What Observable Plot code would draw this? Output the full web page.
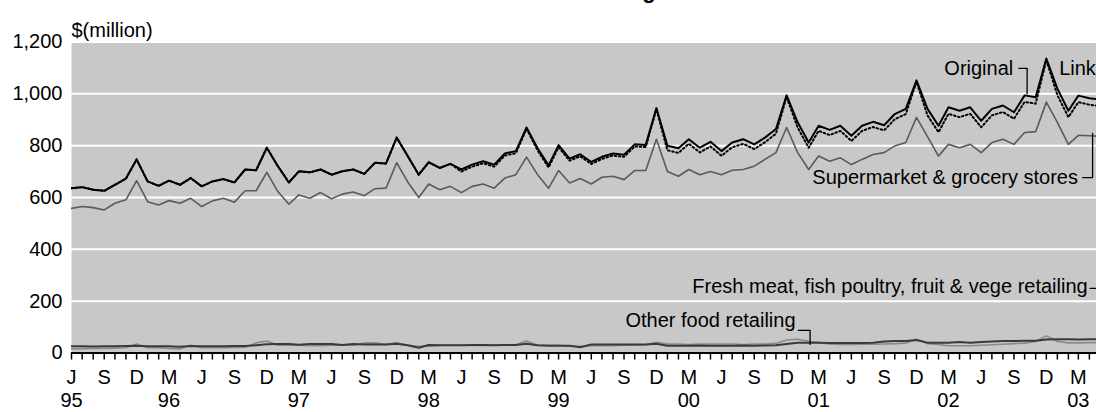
<!DOCTYPE html>
<html><head><meta charset="utf-8">
<script src="https://cdn.jsdelivr.net/npm/d3@7"></script>
<script src="https://cdn.jsdelivr.net/npm/@observablehq/plot@0.6"></script>
<style>
html,body{margin:0;padding:0;background:#fff;overflow:hidden;}
#wrap{position:relative;width:1096px;height:412px;overflow:hidden;}
#title{position:absolute;z-index:2;top:-19.6px;left:583px;transform:translateX(-50%);font:bold 22px "Liberation Sans",Arial,sans-serif;line-height:22px;white-space:nowrap;color:#000;}
</style></head><body>
<div id="wrap"><div id="title">Food retailing</div><div id="chart"></div></div>
<script>
// Months: Jun 1995 .. May 2003
const firstMonth = "1995-06-01";
const lastMonth = "2003-05-01";
const viewEnd = "2003-04-21";

const original = [
 636,640,630,626,649,673,747,662,645,665,649,675,
 643,662,671,658,708,705,792,721,658,701,697,708,
 688,701,708,691,734,731,831,760,688,736,714,730,
 708,727,740,727,770,779,870,790,724,802,750,767,
 737,757,770,765,805,803,945,800,790,825,792,815,
 779,812,825,805,831,864,994,890,812,877,861,877,
 838,877,892,879,922,942,1052,942,877,948,935,948,
 896,942,955,929,994,987,1136,1020,935,993,983,978];

const linked = [
 636,640,630,626,649,673,747,662,645,665,649,675,
 643,662,671,658,708,705,792,721,658,701,697,708,
 688,701,708,691,734,731,831,760,688,736,714,730,
 700,719,732,719,762,771,865,782,716,794,742,759,
 729,749,762,757,797,795,940,782,772,807,774,797,
 761,794,807,787,813,846,988,870,792,857,841,857,
 818,857,872,859,902,922,1046,917,852,923,910,923,
 871,917,930,904,969,962,1130,995,910,968,958,953];

const supermarket = [
 558,565,561,552,578,591,665,584,571,588,578,597,
 565,587,597,582,626,626,697,623,574,610,597,619,
 595,613,621,607,634,636,734,660,600,652,630,643,
 619,643,652,636,675,688,756,688,636,704,656,673,
 652,678,682,669,704,704,825,700,682,708,688,700,
 688,705,708,721,747,773,870,773,708,760,740,753,
 727,747,766,773,799,812,909,835,760,805,792,805,
 773,812,825,805,851,854,968,890,805,840,838,836];

const freshMeat = [
 26,26,25,26,26,27,28,26,26,26,24,27,
 26,26,26,27,27,30,34,35,35,32,35,35,
 35,31,35,33,33,33,36,30,20,31,30,30,
 30,31,31,30,31,31,36,30,28,28,28,22,
 33,33,33,33,33,33,36,28,28,28,29,28,
 28,28,29,28,29,30,35,40,40,40,39,39,
 39,39,40,44,46,46,50,40,40,40,42,40,
 42,44,46,46,47,47,52,53,53,52,53,53];

const otherFood = [
 16,17,18,18,19,20,35,20,20,18,16,30,
 20,20,20,21,22,39,46,30,30,30,28,28,
 30,30,30,38,39,33,40,30,26,26,30,30,
 30,29,29,30,30,32,46,30,30,30,26,26,
 28,28,28,30,30,32,41,35,35,33,35,35,
 35,35,33,35,35,37,50,53,45,40,35,33,
 33,34,34,35,36,38,53,36,33,28,28,28,
 30,32,34,36,38,45,66,45,39,39,40,40];

const yTicks = [0,200,400,600,800,1000,1200];
const monthLetters = ["J","F","M","A","M","J","J","A","S","O","N","D"];
const labelledMonths = [2,5,8,11];

const labels = [
 {text:"Original", date:"2002-08-30", value:1098, anchor:"end"},
 {text:"Linked", date:"2003-01-06", value:1098, anchor:"start"},
 {text:"Supermarket & grocery stores", date:"2003-02-28", value:677, anchor:"end"},
 {text:"Fresh meat, fish poultry, fruit & vege retailing", date:"2000-03-11", value:257, anchor:"start"},
 {text:"Other food retailing", date:"1999-09-05", value:125, anchor:"start"}
];
const connectors = [
 {id:"orig", pts:[["2002-09-15",1098],["2002-10-08",1098],["2002-10-08",1000]]},
 {id:"super", pts:[["2003-03-13",677],["2003-04-10",677],["2003-04-10",847]]},
 {id:"fresh", pts:[["2003-04-03",249],["2003-05-20",249]]},
 {id:"other", pts:[["2001-01-03",87],["2001-02-05",87],["2001-02-05",33]]}
];

const months = d3.utcMonth.range(new Date(firstMonth), d3.utcMonth.offset(new Date(lastMonth), 1));
const toRows = arr => arr.map((v, i) => ({date: months[i], value: v}));

const seriesDefs = [
 {values: otherFood, stroke:"#8a8a8a", strokeWidth:1.6},
 {values: freshMeat, stroke:"#3a3a3a", strokeWidth:2},
 {values: supermarket, stroke:"#5a5a5a", strokeWidth:1.6},
 {values: linked, stroke:"#000", strokeWidth:2, strokeDasharray:"1.6,2.6"},
 {values: original, stroke:"#000", strokeWidth:2}
];

const domainStart = new Date(firstMonth), domainEnd = new Date(viewEnd);
const monthTicks = d3.utcMonth.range(domainStart, domainEnd);
const labelTicks = monthTicks.filter(d => labelledMonths.includes(d.getUTCMonth()));
const yearTicks = labelTicks.filter((d, i) => i === 0 || d.getUTCMonth() === 2);

const connRows = connectors.flatMap(c => c.pts.map(p => ({id: c.id, date: new Date(p[0]), value: p[1]})));
const lab = labels.map(d => ({...d, date: new Date(d.date)}));

const chart = Plot.plot({
  width: 1096, height: 412,
  marginLeft: 71, marginRight: 0, marginTop: 41.5, marginBottom: 59.5,
  style: {fontFamily: "'Liberation Sans', Arial, sans-serif", fontSize: "20px", background: "white", color: "black"},
  x: {type: "utc", domain: [domainStart, domainEnd]},
  y: {domain: [0, 1200]},
  marks: [
    Plot.frame({fill: "#c8c8c8", stroke: null}),
    Plot.gridY(yTicks.filter(v => v > 0), {stroke: "white", strokeOpacity: 1, strokeWidth: 2}),
    ...seriesDefs.map(s => Plot.line(toRows(s.values), {x: "date", y: "value", stroke: s.stroke, strokeWidth: s.strokeWidth, strokeDasharray: s.strokeDasharray, clip: true})),
    Plot.line(connRows, {x: "date", y: "value", z: "id", stroke: "black", strokeWidth: 1.3, clip: false}),
    Plot.text(lab.filter(d => d.anchor === "start"), {x: "date", y: "value", text: "text", textAnchor: "start", fontSize: 20, fill: "black"}),
    Plot.text(lab.filter(d => d.anchor === "end"), {x: "date", y: "value", text: "text", textAnchor: "end", fontSize: 20, fill: "black"}),
    Plot.ruleY([0], {stroke: "black", strokeWidth: 2}),
    Plot.axisY({ticks: yTicks, tickSize: 0, tickPadding: 9, tickFormat: d3.format(","), fontSize: 20, label: null}),
    Plot.axisX({ticks: monthTicks, tickSize: 7, tickFormat: () => "", label: null, stroke: "black", strokeWidth: 1.5}),
    Plot.axisX({ticks: labelTicks, tickSize: 0, tickPadding: 17, tickFormat: d => monthLetters[d.getUTCMonth()], fontSize: 20, label: null}),
    Plot.axisX({ticks: yearTicks, tickSize: 0, tickPadding: 40, tickFormat: d => String(d.getUTCFullYear()).slice(2), fontSize: 20, label: null}),
    Plot.text(["$(million)"], {frameAnchor: "top-left", dy: -19, textAnchor: "start", fontSize: 20, fill: "black"})
  ]
});
document.getElementById("chart").appendChild(chart);
</script>
</body></html>
